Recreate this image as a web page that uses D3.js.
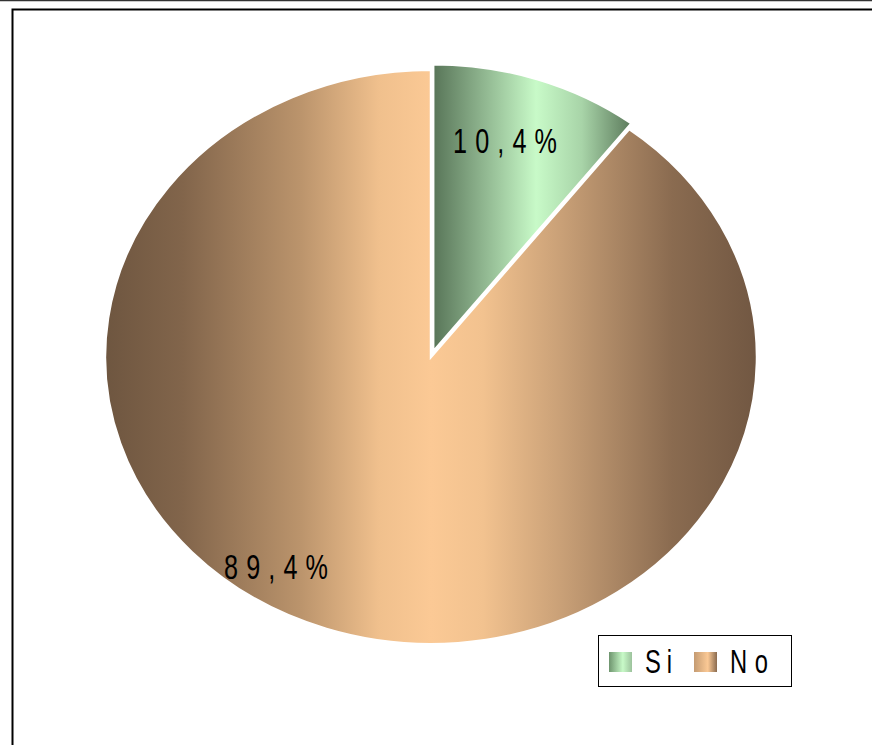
<!DOCTYPE html>
<html><head><meta charset="utf-8">
<script src="https://cdn.jsdelivr.net/npm/d3@7"></script>
<style>html,body{margin:0;background:#fff;overflow:hidden}svg{display:block;overflow:hidden}</style>
</head><body>
<script>
const categories = ["Si", "No"];
const values = [10.4, 89.6];
const labels = ["10,4%", "89,4%"];

const W = 872, H = 745;
const svg = d3.select("body").append("svg").attr("width", W).attr("height", H);

svg.append("line").attr("x1",0).attr("x2",W).attr("y1",0.5).attr("y2",0.5).attr("stroke","#333").attr("stroke-width",1.5);
svg.append("path").attr("d", `M${W},9.5 H12.5 V${H}`)
  .attr("fill","none").attr("stroke","#000").attr("stroke-width",2);

const defs = svg.append("defs");
const grads = {
  Si: [["0%","#587558"],["20%","#84a884"],["52%","#c8fac8"],["75%","#a8d4a8"],["100%","#5c7a5c"]],
  No: [["0%","#6e5640"],["12%","#82654b"],["30%","#bb946c"],["42%","#f0c08d"],["50%","#fbc995"],["58%","#f2c28f"],["70%","#c9a077"],["87%","#8a6b50"],["100%","#715742"]]
};
Object.entries(grads).forEach(([k, stops]) => {
  const g = defs.append("linearGradient").attr("id","g"+k).attr("x1","0%").attr("x2","100%").attr("y1","0%").attr("y2","0%");
  stops.forEach(s => g.append("stop").attr("offset", s[0]).attr("stop-color", s[1]));
});
const legGrads = {Si: ["#6e946e","#c8fac8"], No: ["#c49b72","#fbc995"]};
Object.entries(legGrads).forEach(([k, c]) => {
  const g = defs.append("linearGradient").attr("id","l"+k).attr("x1","0%").attr("x2","100%");
  g.append("stop").attr("offset","0%").attr("stop-color",c[0]);
  g.append("stop").attr("offset","60%").attr("stop-color",c[1]);
  g.append("stop").attr("offset","100%").attr("stop-color",k==="No"?"#8a6b50":"#9cc29c");
});

const cx = 431, cy = 357, rx = 326, ry = 287;
const pie = d3.pie().sort(null).value(d => d)(values);
const arc = d3.arc().innerRadius(0).outerRadius(ry);
const g = svg.append("g").attr("transform", `translate(${cx},${cy})`);

pie.forEach((p, i) => {
  const k = categories[i];
  const mid = (p.startAngle + p.endAngle) / 2;
  const off = i === 0 ? 6 : 0;
  const dx = Math.sin(mid) * off * rx / ry, dy = -Math.cos(mid) * off;
  g.append("g").attr("transform", `translate(${dx},${dy}) scale(${rx/ry},1)`)
    .append("path").attr("d", arc(p)).attr("fill", `url(#g${k})`)
    .attr("stroke", "#fff").attr("stroke-width", 2.2).attr("stroke-linejoin","miter");
});

const font = "'Liberation Sans',Arial,sans-serif";
const sx = 0.72;
function narrowText(x, y, t, size, width, anchor) {
  svg.append("g").attr("transform", `translate(${x},${y}) scale(${sx},1)`)
    .append("text").attr("x", 0).attr("y", 0).attr("text-anchor", anchor)
    .attr("font-family", font).attr("font-size", size)
    .attr("textLength", width / sx).attr("lengthAdjust", "spacing")
    .attr("fill", "#000").text(t);
}
const labelPos = [[505, 153], [276, 579]];
labels.forEach((t, i) => narrowText(labelPos[i][0], labelPos[i][1], t, 35, 104, "middle"));

// legend
const lg = svg.append("g");
lg.append("rect").attr("x",598.5).attr("y",635.5).attr("width",193).attr("height",51).attr("fill","#fff").attr("stroke","#000").attr("stroke-width",1);
const legX = [[609, 645], [694, 730]];
categories.forEach((k, i) => {
  lg.append("rect").attr("x", legX[i][0]).attr("y", 652).attr("width", 23).attr("height", 20).attr("fill", `url(#l${k})`);
  narrowText(legX[i][1], 673, k, 33, k === "Si" ? 27 : 38, "start");
});
</script>
</body></html>
